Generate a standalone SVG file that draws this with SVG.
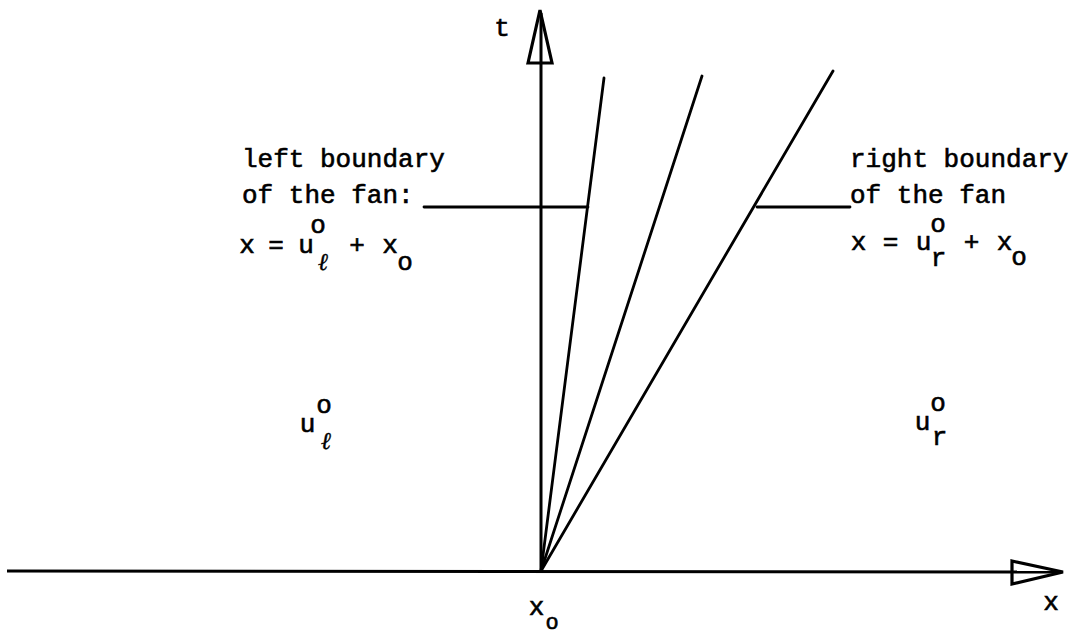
<svg xmlns="http://www.w3.org/2000/svg" width="1083" height="637" viewBox="0 0 1083 637">
<style>
.ln{stroke:#000;stroke-width:2.8;fill:none;stroke-linecap:round}
.ax{stroke:#000;stroke-width:3;fill:none}
.head{stroke:#000;stroke-width:3.2;fill:none;stroke-linejoin:miter}
text{font-family:"Liberation Mono","DejaVu Sans Mono",monospace;font-size:26px;fill:#000;stroke:#000;stroke-width:0.6}
.c{text-anchor:middle}
.ell{font-family:"DejaVu Serif","Liberation Serif",serif;font-style:italic;font-size:24px;stroke-width:0.4}
.sm{font-size:22px}
</style>
<rect width="1083" height="637" fill="#fff"/>
<g id="connectors">
<line class="ax" x1="7" y1="571" x2="1060" y2="572"/>
<polygon class="head" points="1012,561 1063,572 1012,584"/>
<line class="ax" x1="541" y1="571" x2="541" y2="13"/>
<polygon class="head" points="528,63 540,10 552,63"/>
<line class="ln" x1="541" y1="571" x2="604" y2="78"/>
<line class="ln" x1="541" y1="571" x2="702" y2="76"/>
<line class="ln" x1="541" y1="571" x2="833" y2="71"/>
<line class="ln" x1="424" y1="207" x2="588" y2="207"/>
<line class="ln" x1="757" y1="207" x2="850" y2="207"/>
</g>
<g id="label-t"><text class="c" x="502" y="36">t</text></g>
<g id="label-x"><text class="c" x="1051" y="610">x</text></g>
<g id="label-x0">
<text class="c" x="536.5" y="615">x</text>
<text class="c sm" x="552" y="629">o</text>
</g>
<g id="left-boundary">
<text x="242" y="167">left boundary</text>
<text x="242" y="203">of the fan:</text>
<text class="c" x="247" y="253">x</text>
<text class="c" x="276" y="253">=</text>
<text class="c" x="306" y="253">u</text>
<text class="c" x="318" y="233">o</text>
<text class="c ell" x="323" y="270">ℓ</text>
<text class="c" x="357" y="253">+</text>
<text class="c" x="390" y="253">x</text>
<text class="c" x="405" y="270">o</text>
</g>
<g id="right-boundary">
<text x="850" y="167">right boundary</text>
<text x="850" y="203">of the fan</text>
<text class="c" x="858.5" y="250">x</text>
<text class="c" x="890.5" y="250">=</text>
<text class="c" x="923.5" y="250">u</text>
<text class="c" x="938" y="232">o</text>
<text class="c" x="938.5" y="266">r</text>
<text class="c" x="971.5" y="250">+</text>
<text class="c" x="1004.5" y="250">x</text>
<text class="c" x="1019" y="265">o</text>
</g>
<g id="state-left">
<text class="c" x="307.5" y="432">u</text>
<text class="c" x="324" y="413">o</text>
<text class="c ell" x="326" y="449">ℓ</text>
</g>
<g id="state-right">
<text class="c" x="922.5" y="430">u</text>
<text class="c" x="938" y="411">o</text>
<text class="c" x="939.5" y="445">r</text>
</g>
</svg>
